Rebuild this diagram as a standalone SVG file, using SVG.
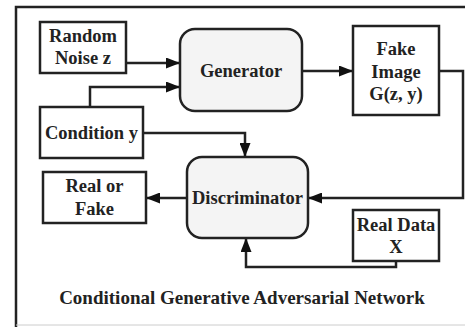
<svg xmlns="http://www.w3.org/2000/svg" width="465" height="327" viewBox="0 0 465 327">
<defs>
<style>
.box{fill:#fff;stroke:#222;stroke-width:2.5}
.rbox{fill:#f4f4f4;stroke:#222;stroke-width:2.5}
.t{font-family:"Liberation Serif","Times New Roman",serif;font-weight:bold;font-size:18.5px;fill:#222;text-anchor:middle}
.c{fill:none;stroke:#222;stroke-width:2.5}
</style>
<marker id="ah" viewBox="0 0 14 11" refX="14" refY="5.5" markerWidth="14" markerHeight="11" markerUnits="userSpaceOnUse" orient="auto">
<path d="M0,0 L14,5.5 L0,11 Z" fill="#111"/>
</marker>
</defs>
<rect width="465" height="327" fill="#fff"/>
<g id="frame">
<path d="M16,327 V7 H465" fill="none" stroke="#222" stroke-width="2.5"/>
<path d="M16,325 H465" stroke="#ccc" stroke-width="1"/>
</g>
<g id="connectors">
<path class="c" d="M126,63 H180" marker-end="url(#ah)"/>
<path class="c" d="M90,107 V87 H180" marker-end="url(#ah)"/>
<path class="c" d="M143,133 H245 V157" marker-end="url(#ah)"/>
<path class="c" d="M302,71 H353" marker-end="url(#ah)"/>
<path class="c" d="M440,71 H463 V198 H308" marker-end="url(#ah)"/>
<path class="c" d="M187,198 H146" marker-end="url(#ah)"/>
<path class="c" d="M396,261 V267 H246 V238" marker-end="url(#ah)"/>
</g>
<g id="random-noise">
<rect class="box" x="40" y="22" width="86" height="51"/>
<text class="t" x="83" y="42">Random</text>
<text class="t" x="83" y="64">Noise z</text>
</g>
<g id="generator">
<rect class="rbox" x="180" y="29" width="122" height="82" rx="15"/>
<text class="t" x="241" y="77">Generator</text>
</g>
<g id="fake-image">
<rect class="box" x="353" y="26" width="86" height="89"/>
<text class="t" x="396" y="55">Fake</text>
<text class="t" x="396" y="78">Image</text>
<text class="t" x="396" y="100">G(z, y)</text>
</g>
<g id="condition">
<rect class="box" x="40" y="107" width="103" height="51"/>
<text class="t" x="91.5" y="139">Condition y</text>
</g>
<g id="discriminator">
<rect class="rbox" x="187" y="157" width="121" height="81" rx="15"/>
<text class="t" x="247.5" y="204">Discriminator</text>
</g>
<g id="real-or-fake">
<rect class="box" x="43" y="172" width="103" height="51"/>
<text class="t" x="94.5" y="192">Real or</text>
<text class="t" x="94.5" y="215">Fake</text>
</g>
<g id="real-data">
<rect class="box" x="353" y="210" width="86" height="51"/>
<text class="t" x="396" y="231">Real Data</text>
<text class="t" x="396" y="253">X</text>
</g>
<text class="t" x="242" y="304" style="font-size:19px">Conditional Generative Adversarial Network</text>
</svg>
